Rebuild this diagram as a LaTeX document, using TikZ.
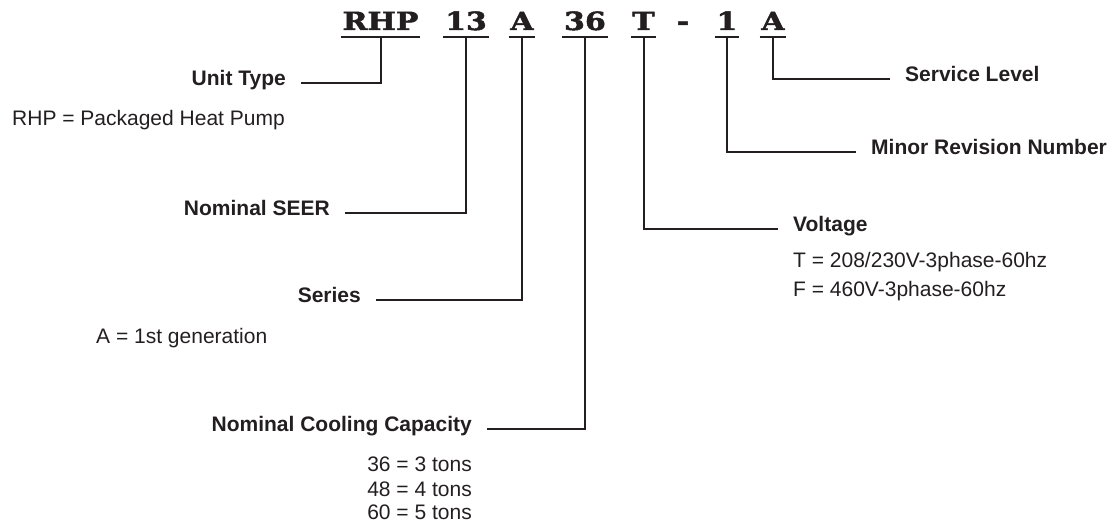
\documentclass[tikz,border=0pt]{standalone}
\usepackage{fontspec}
\setmainfont{Liberation Sans}
\newfontfamily\codefont{DejaVu Serif Bold}[FakeStretch=1.2,FakeBold=2]
\definecolor{ink}{HTML}{231F20}
\begin{document}
\begin{tikzpicture}[x=1pt,y=-1pt,
  codetxt/.style={inner sep=0pt,anchor=base,font=\codefont\fontsize{25}{25}\selectfont,text=ink},
  lbl/.style={inner ysep=0pt,inner xsep=15pt,font=\bfseries\fontsize{21}{24}\selectfont,text=ink},
  desc/.style={inner sep=0pt,font=\fontsize{21}{24}\selectfont,text=ink},
  uline/.style={draw=ink,line width=2.4pt},
  conn/.style={draw=ink,line width=2pt}]
\useasboundingbox (0,0) rectangle (1118,529);
% code
\node[codetxt] (c1) at (380.5,30) {RHP};
\node[codetxt] (c2) at (466,30) {13};
\node[codetxt] (c3) at (522,30) {A};
\node[codetxt] (c4) at (585,30) {36};
\node[codetxt] (c5) at (643.5,30) {T};
\node[codetxt] (cd) at (683,30) {-};
\node[codetxt] (c6) at (727,30) {1};
\node[codetxt] (c7) at (773,30) {A};
\foreach \n in {c1,c2,c3,c4,c5,c6,c7}{
  \draw[uline] ([xshift=-1.5pt,yshift=-7pt]\n.base west) -- ([xshift=1.5pt,yshift=-7pt]\n.base east);
}
% labels
\node[lbl,anchor=mid east] (ut) at (301,83) {Unit Type};
\node[lbl,anchor=mid east] (seer) at (345,213) {Nominal SEER};
\node[lbl,anchor=mid east] (ser) at (376,300) {Series};
\node[lbl,anchor=mid east] (cap) at (487,429) {Nominal Cooling Capacity};
\node[lbl,anchor=mid west] (volt) at (778,229) {Voltage};
\node[lbl,anchor=mid west] (minor) at (856,152) {Minor Revision Number};
\node[lbl,anchor=mid west] (svc) at (890,79) {Service Level};
% descriptions
\node[desc,anchor=base west] (dut) at (12,126) {RHP = Packaged Heat Pump};
\node[desc,anchor=base west] (dser) at (96,343) {A = 1st generation};
\node[desc,anchor=base east] (d1) at (472,471) {36 = 3 tons};
\node[desc,anchor=base east] (d2) at (472,496) {48 = 4 tons};
\node[desc,anchor=base east] (d3) at (472,519) {60 = 5 tons};
\node[desc,anchor=base west] (dv1) at (793,267) {T = 208/230V-3phase-60hz};
\node[desc,anchor=base west] (dv2) at (793,296) {F = 460V-3phase-60hz};
% connectors
\draw[conn] ([yshift=-7pt]c1.base) |- (ut.mid east);
\draw[conn] ([yshift=-7pt]c2.base) |- (seer.mid east);
\draw[conn] ([yshift=-7pt]c3.base) |- (ser.mid east);
\draw[conn] ([yshift=-7pt]c4.base) |- (cap.mid east);
\draw[conn] ([yshift=-7pt]c5.base) |- (volt.mid west);
\draw[conn] ([yshift=-7pt]c6.base) |- (minor.mid west);
\draw[conn] ([yshift=-7pt]c7.base) |- (svc.mid west);
\end{tikzpicture}
\end{document}
